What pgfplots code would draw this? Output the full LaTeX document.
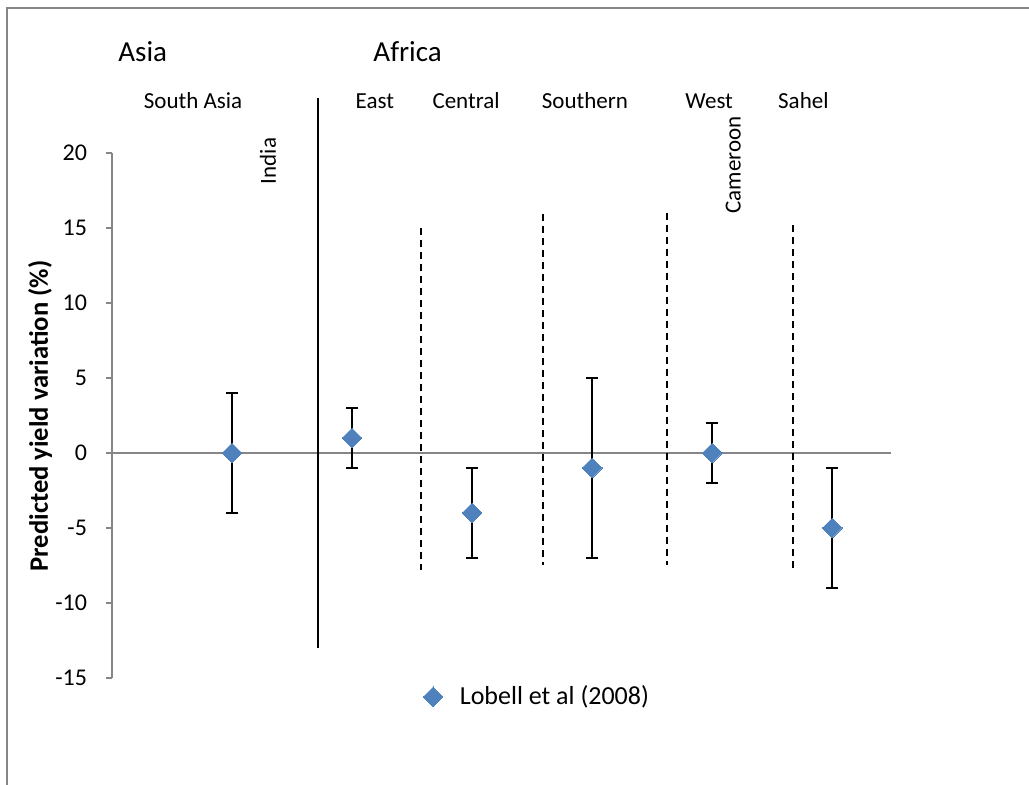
\documentclass[border=0pt]{standalone}
\usepackage{pgfplots}
\pgfplotsset{compat=1.18}
\usepackage{fontspec}
\setmainfont{Carlito}
\definecolor{mkblue}{HTML}{4F81BD}
\definecolor{axgray}{HTML}{868686}
\begin{document}
\begin{tikzpicture}[x=1pt,y=1pt]
\useasboundingbox (0,0) rectangle (514.5,392.5);
\draw[axgray,line width=0.8pt] (3.5,-5) -- (3.5,388.5) -- (520,388.5);
\begin{axis}[
  at={(56pt,53.5pt)}, anchor=south west,
  scale only axis, width=389.5pt, height=262.5pt,
  xmin=0, xmax=6.49, ymin=-15, ymax=20,
  ytick={-15,-10,...,20},
  axis x line=none, axis y line*=left,
  y axis line style={axgray,line width=0.7pt},
  ytick style={axgray,line width=0.7pt},
  tick align=outside, major tick length=3pt,
  /pgf/number format/assume math mode=true,
  yticklabel style={font=\fontsize{12}{14}\selectfont, anchor=east, xshift=-6pt},
  ylabel={\textbf{Predicted yield variation (\%)}},
  ylabel style={font=\fontsize{13.3}{15}\selectfont, at={(axis description cs:-0.0924,0.499)}, anchor=center, rotate=0},
  clip=false,
  legend style={draw=none, at={(axis description cs:0.547,-0.036)}, anchor=center, font=\fontsize{13}{15}\selectfont, legend cell align=left},
  legend image code/.code={\path[draw=none,fill=none] (-0.12cm,0) -- (0.40cm,0); \draw[mark repeat=2,mark phase=2,#1] plot coordinates {(0cm,0cm)(0cm,0cm)(0cm,0cm)};},
]
\addplot[axgray, line width=0.7pt, forget plot] coordinates {(0,0) (6.49,0)};
\addplot[black, line width=1.4pt, forget plot] coordinates {(1.717,23.67) (1.717,-13)};
\addplot[black, line width=1pt, dash pattern=on 3.5pt off 2.5pt, forget plot] coordinates {(2.575,15) (2.575,-7.8)};
\addplot[black, line width=1pt, dash pattern=on 3.5pt off 2.5pt, forget plot] coordinates {(3.592,15.9) (3.592,-7.5)};
\addplot[black, line width=1pt, dash pattern=on 3.5pt off 2.5pt, forget plot] coordinates {(4.625,16) (4.625,-7.5)};
\addplot[black, line width=1pt, dash pattern=on 3.5pt off 2.5pt, forget plot] coordinates {(5.675,15.2) (5.675,-7.7)};
\addplot[only marks, mark=square*, mark size=3.5pt, mark options={rotate=45, fill=mkblue, draw=mkblue, line width=0pt},
  error bars/.cd, y dir=both, y explicit,
  error bar style={black, line width=0.75pt},
  error mark options={rotate=90, mark size=3pt, black, line width=0.75pt}]
  coordinates {
  (1,0) +- (0,4)
  (2,1) +- (0,2)
  (3,-4) +- (0,3)
  (4,-1) +- (0,6)
  (5,0) +- (0,2)
  (6,-5) +- (0,4)
  };
\addlegendentry{Lobell et al (2008)}
\node[anchor=west, inner sep=0pt, font=\fontsize{14.5}{17}\selectfont] at (axis cs:0.05,26.73) {Asia};
\node[anchor=west, inner sep=0pt, font=\fontsize{14.5}{17}\selectfont] at (axis cs:2.175,26.73) {Africa};
\node[font=\fontsize{11.5}{13}\selectfont] at (axis cs:0.675,23.47) {South Asia};
\node[font=\fontsize{11.5}{13}\selectfont] at (axis cs:2.19,23.47) {East};
\node[font=\fontsize{11.5}{13}\selectfont] at (axis cs:2.95,23.47) {Central};
\node[font=\fontsize{11.5}{13}\selectfont] at (axis cs:3.94,23.47) {Southern};
\node[font=\fontsize{11.5}{13}\selectfont] at (axis cs:4.975,23.47) {West};
\node[font=\fontsize{11.5}{13}\selectfont] at (axis cs:5.76,23.47) {Sahel};
\node[rotate=90, font=\fontsize{11.5}{13}\selectfont] at (axis cs:1.3,19.47) {India};
\node[rotate=90, font=\fontsize{11.5}{13}\selectfont] at (axis cs:5.175,19.2) {Cameroon};
\end{axis}
\end{tikzpicture}
\end{document}
